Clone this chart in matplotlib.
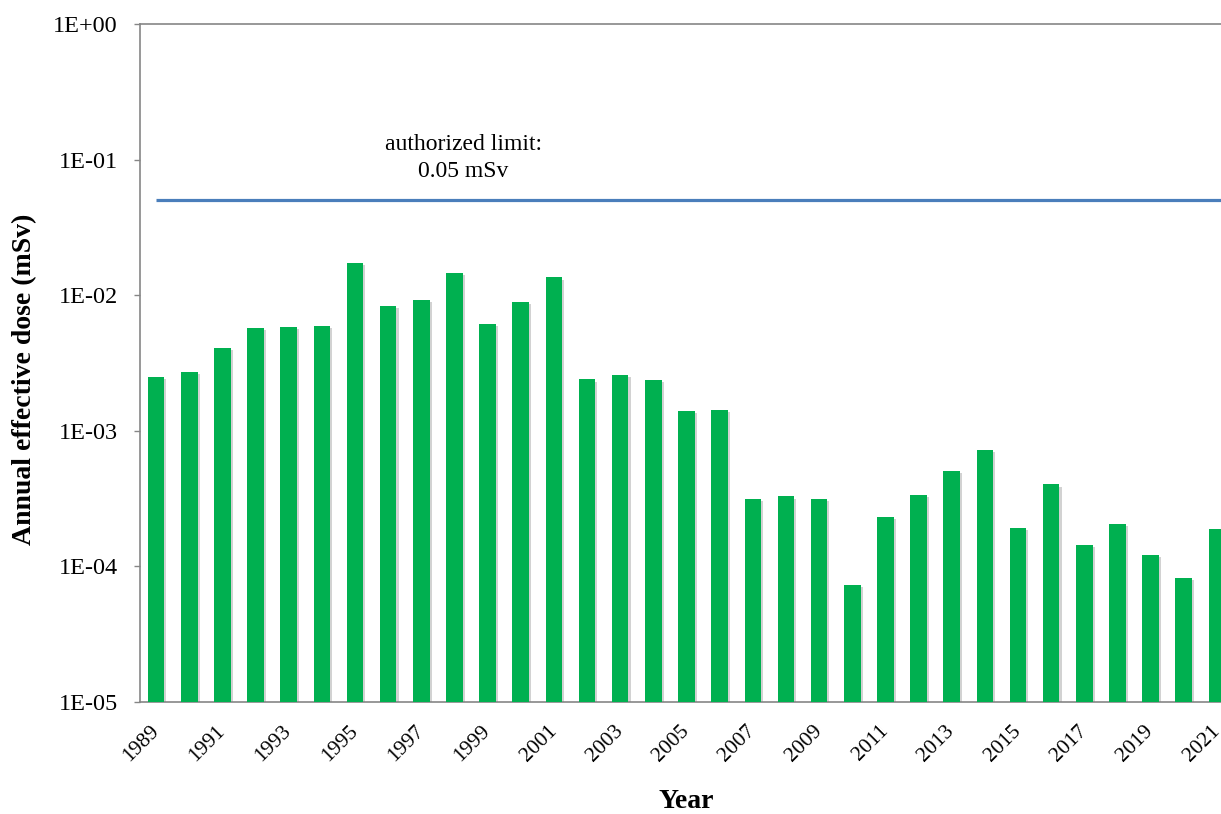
import matplotlib
matplotlib.use("Agg")
import matplotlib.pyplot as plt
import matplotlib.patheffects as pe
import numpy as np

years = list(range(1989, 2022))
dose = [2.47e-3, 2.72e-3, 4.07e-3, 5.69e-3, 5.78e-3, 5.88e-3, 1.72e-2, 8.27e-3,
        9.24e-3, 1.45e-2, 6.09e-3, 8.94e-3, 1.35e-2, 2.38e-3, 2.57e-3, 2.35e-3,
        1.38e-3, 1.42e-3, 3.06e-4, 3.18e-4, 3.04e-4, 6.31e-5, 2.22e-4, 3.29e-4,
        4.93e-4, 7.11e-4, 1.81e-4, 3.92e-4, 1.35e-4, 1.95e-4, 1.11e-4, 7.26e-5,
        1.79e-4]
limit = 0.05
ytick_vals = [1e-5, 1e-4, 1e-3, 1e-2, 1e-1, 1]
ytick_labels = ["1E-05", "1E-04", "1E-03", "1E-02", "1E-01", "1E+00"]

plt.rcParams['font.family'] = ['Liberation Serif', 'DejaVu Serif']

W, H = 1221, 814
fig = plt.figure(figsize=(W / 100, H / 100), dpi=100)
# axes runs past the right edge, like the cropped original
ax = fig.add_axes([139.5 / W, (H - 702) / H, 1094 / W, 678 / H])

x = np.arange(len(years))
bars = ax.bar(x, dose, width=0.5, color="#00B050", bottom=1e-5, zorder=3)
for b in bars:
    b.set_path_effects([pe.SimplePatchShadow(offset=(1.5, -1.5), shadow_rgbFace="gray", alpha=0.35),
                        pe.Normal()])

ax.hlines(limit, 0, len(years), color="#4A7EBB", linewidth=2.3, zorder=4)
ax.text(9.26, 0.1026, "authorized limit:\n0.05 mSv", ha="center", va="center",
        fontsize=17, linespacing=1.35)

ax.set_yscale("log")
ax.set_ylim(1e-5, 1)
ax.set_xlim(-0.5, len(years) - 0.5)
ax.set_yticks(ytick_vals)
ax.set_yticklabels(ytick_labels)
ax.yaxis.set_minor_locator(matplotlib.ticker.NullLocator())
ax.set_xticks(x[::2])
ax.set_xticklabels([str(y) for y in years[::2]], rotation=45, ha="right", va="center",
                   rotation_mode="anchor")

ax.tick_params(axis="y", labelsize=17.5, length=4.5, width=1, color="#868686", pad=11)
ax.tick_params(axis="x", labelsize=15.5, length=0, pad=19)

for s in ["left", "bottom", "top"]:
    ax.spines[s].set_color("#868686")
    ax.spines[s].set_linewidth(1.2)
ax.spines["right"].set_visible(False)

fig.text(25 / W, 1 - 379 / H, "Annual effective dose (mSv)", rotation=90, ha="center",
         va="center", fontsize=20, fontweight="bold")
fig.text(686 / W, 1 - 802 / H, "Year", ha="center", va="center", fontsize=20,
         fontweight="bold")

fig.savefig("out.png", dpi=100)
